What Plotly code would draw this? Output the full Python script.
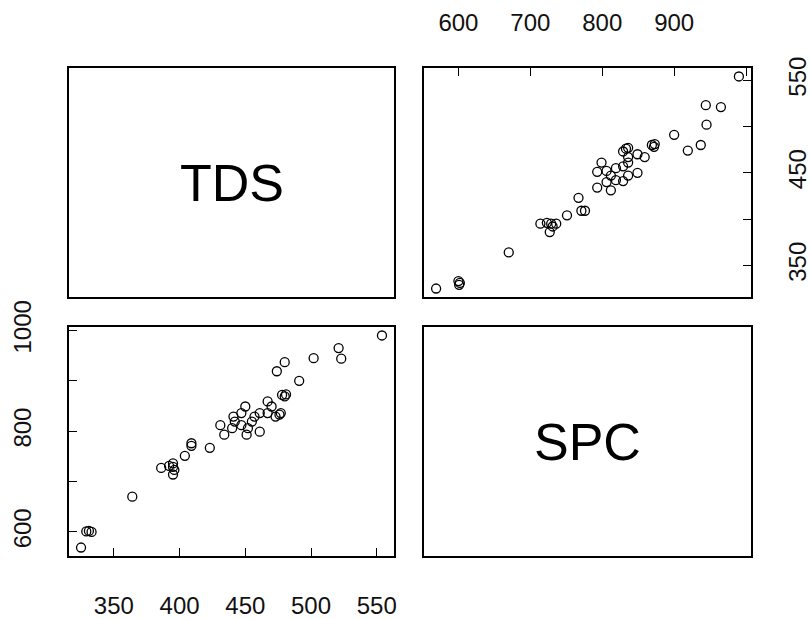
import plotly.graph_objects as go

# Data
tds = [325, 329, 331, 333, 364, 386, 395, 395, 396, 395, 404, 409, 409, 423,
       431, 434, 440, 442, 447, 450, 447, 451, 455, 457, 461, 461, 467, 467,
       470, 473, 477, 478, 480, 481, 474, 480, 491, 502, 521, 523, 554,
       441, 452, 476, 392]
spc = [569, 601, 602, 600, 670, 727, 736, 729, 723, 714, 751, 776, 771, 767,
       812, 793, 806, 819, 836, 849, 812, 793, 819, 829, 836, 799, 859, 836,
       849, 829, 836, 872, 869, 873, 919, 937, 900, 945, 965, 944, 990,
       829, 806, 833, 731]
var_names = ["TDS", "SPC"]

tds_ticks = [350, 400, 450, 500, 550]
tds_bottom_labels = ["350", "400", "450", "500", "550"]
tds_right_labels = ["350", "", "450", "", "550"]
spc_ticks = [600, 700, 800, 900, 1000]
spc_top_labels = ["600", "700", "800", "900", ""]
spc_left_labels = ["600", "", "800", "", "1000"]


def rng(v):
    lo, hi = min(v), max(v)
    r = hi - lo
    return [lo - 0.04 * r, hi + 0.04 * r]


W, H = 810, 619
cols = [(69, 394), (424, 751)]
rows = [(68, 297), (327, 556)]


def xd(c):
    return [cols[c][0] / W, cols[c][1] / W]


def yd(r):
    return [1 - rows[r][1] / H, 1 - rows[r][0] / H]


fig = go.Figure()

marker = dict(symbol="circle-open", size=9, color="black", line=dict(width=1.3, color="black"))

# top-right: x = SPC, y = TDS
fig.add_trace(go.Scatter(x=spc, y=tds, mode="markers", marker=marker,
                         xaxis="x2", yaxis="y2", showlegend=False, hoverinfo="skip"))
# bottom-left: x = TDS, y = SPC
fig.add_trace(go.Scatter(x=tds, y=spc, mode="markers", marker=marker,
                         xaxis="x3", yaxis="y3", showlegend=False, hoverinfo="skip"))

font = dict(family="Liberation Sans, Arial, sans-serif", size=24, color="#111")

box = dict(showline=True, linecolor="black", linewidth=1.6, mirror=True,
           showgrid=False, zeroline=False, automargin=False)
tick = dict(ticks="inside", ticklen=8, tickwidth=1.4, tickcolor="black",
            tickfont=font)
blank = dict(showticklabels=False, ticks="", range=[0, 1], fixedrange=True)

fig.update_layout(
    width=W, height=H,
    margin=dict(l=0, r=0, t=0, b=0, autoexpand=False),
    paper_bgcolor="white", plot_bgcolor="white",
    # top-left diagonal
    xaxis=dict(domain=xd(0), anchor="y", **box, **blank),
    yaxis=dict(domain=yd(0), anchor="x", **box, **blank),
    # top-right
    xaxis2=dict(domain=xd(1), anchor="y2", side="top", range=rng(spc),
                tickvals=spc_ticks, ticktext=spc_top_labels,
                ticklabelstandoff=26, **box, **tick),
    yaxis2=dict(domain=yd(0), anchor="x2", side="right", range=rng(tds),
                tickvals=tds_ticks, ticktext=tds_right_labels, tickangle=-90,
                ticklabelstandoff=24, **box, **tick),
    # bottom-left
    xaxis3=dict(domain=xd(0), anchor="y3", side="bottom", range=rng(tds),
                tickvals=tds_ticks, ticktext=tds_bottom_labels,
                ticklabelstandoff=27, **box, **tick),
    yaxis3=dict(domain=yd(1), anchor="x3", side="left", range=rng(spc),
                tickvals=spc_ticks, ticktext=spc_left_labels, tickangle=-90,
                ticklabelstandoff=27, **box, **tick),
    # bottom-right diagonal
    xaxis4=dict(domain=xd(1), anchor="y4", **box, **blank),
    yaxis4=dict(domain=yd(1), anchor="x4", **box, **blank),
)

big = dict(family="Liberation Sans, Arial, sans-serif", size=52, color="black")
fig.add_annotation(x=0.5, y=0.5, xref="x", yref="y", text=var_names[0],
                   showarrow=False, font=big)
fig.add_annotation(x=0.5, y=0.5, xref="x4", yref="y4", text=var_names[1],
                   showarrow=False, font=big)

fig.write_html("out.html")
